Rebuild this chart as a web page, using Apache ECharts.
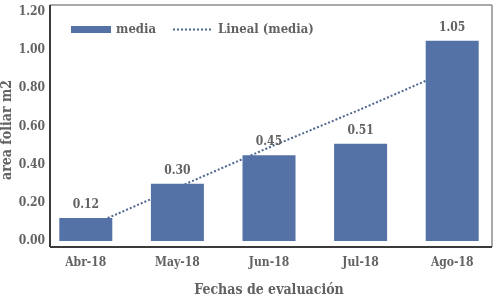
<!DOCTYPE html>
<html>
<head>
<meta charset="utf-8">
<script src="https://cdn.jsdelivr.net/npm/echarts@6/dist/echarts.min.js"></script>
<style>
html, body { margin: 0; padding: 0; background: #fff; }
#chart { width: 498px; height: 302px; }
</style>
</head>
<body>
<div id="chart"></div>
<script>
// datos
var fechas = ['Abr-18', 'May-18', 'Jun-18', 'Jul-18', 'Ago-18'];
var media = [0.12, 0.30, 0.45, 0.51, 1.05];
// linea de tendencia (Lineal)
var lineal = [0.07, 0.28, 0.49, 0.69, 0.90];
var yTicks = [0, 0.2, 0.4, 0.6, 0.8, 1.0, 1.2];

var fontName = '"DejaVu Serif Condensed", "DejaVu Serif", serif';
var gris = '#626262';
var azul = '#5572A6';

var chart = echarts.init(document.getElementById('chart'));

var option = {
    animation: false,
    textStyle: { fontFamily: fontName },
    legend: {
        left: 66,
        top: 18,
        itemWidth: 40,
        itemHeight: 7,
        itemGap: 16,
        textStyle: { color: gris, fontSize: 13, fontWeight: 'bold', fontFamily: fontName },
        data: [
            { name: 'media', icon: 'rect' },
            { name: 'Lineal (media)', itemStyle: { opacity: 0 } }
        ]
    },
    grid: {
        left: 40,
        top: 12,
        width: 465,
        bottom: 55,
        containLabel: false
    },
    xAxis: {
        type: 'category',
        data: fechas,
        axisLine: { show: false },
        axisTick: { show: false },
        axisLabel: { color: gris, fontSize: 12, fontWeight: 'bold', margin: 16 },
        name: 'Fechas de evaluación',
        nameLocation: 'middle',
        nameGap: 42,
        nameTextStyle: { color: gris, fontSize: 14, fontWeight: 'bold' }
    },
    yAxis: {
        type: 'value',
        min: yTicks[0],
        max: yTicks[yTicks.length - 1],
        interval: 0.2,
        offset: -10,
        splitLine: { show: false },
        axisLine: { show: false },
        axisTick: { show: false },
        axisLabel: {
            color: gris, fontSize: 12, fontWeight: 'bold', margin: 5,
            formatter: function (v) { return v.toFixed(2); }
        }
    },
    graphic: [
        { type: 'line', shape: { x1: 50, y1: 5, x2: 492, y2: 5 }, style: { stroke: '#8c8c8c', lineWidth: 1.5 }, z: 100 },
        { type: 'line', shape: { x1: 492, y1: 5, x2: 492, y2: 247 }, style: { stroke: '#8c8c8c', lineWidth: 1.5 }, z: 100 },
        { type: 'line', shape: { x1: 50, y1: 5, x2: 50, y2: 247 }, style: { stroke: '#3a3a3a', lineWidth: 2 }, z: 100 },
        { type: 'line', shape: { x1: 50, y1: 247, x2: 492, y2: 247 }, style: { stroke: '#3a3a3a', lineWidth: 2 }, z: 100 },
        {
            type: 'text', left: 0, top: 80, rotation: Math.PI / 2,
            style: { text: 'area foliar m2', fill: gris, font: 'bold 14px ' + fontName },
            z: 100
        }
    ],
    series: [
        {
            name: 'Lineal (media)',
            type: 'line',
            data: lineal,
            symbol: 'none',
            z: 1,
            lineStyle: { color: '#4d6590', width: 2, type: [2, 2] },
            itemStyle: { color: '#4d6590' }
        },
        {
            name: 'media',
            type: 'bar',
            data: media,
            barWidth: 53,
            z: 2,
            itemStyle: { color: azul },
            label: {
                show: true,
                position: 'top',
                distance: 7,
                color: gris,
                fontSize: 12,
                fontWeight: 'bold',
                formatter: function (p) { return p.value.toFixed(2); }
            }
        }
    ]
};

chart.setOption(option);
</script>
</body>
</html>
